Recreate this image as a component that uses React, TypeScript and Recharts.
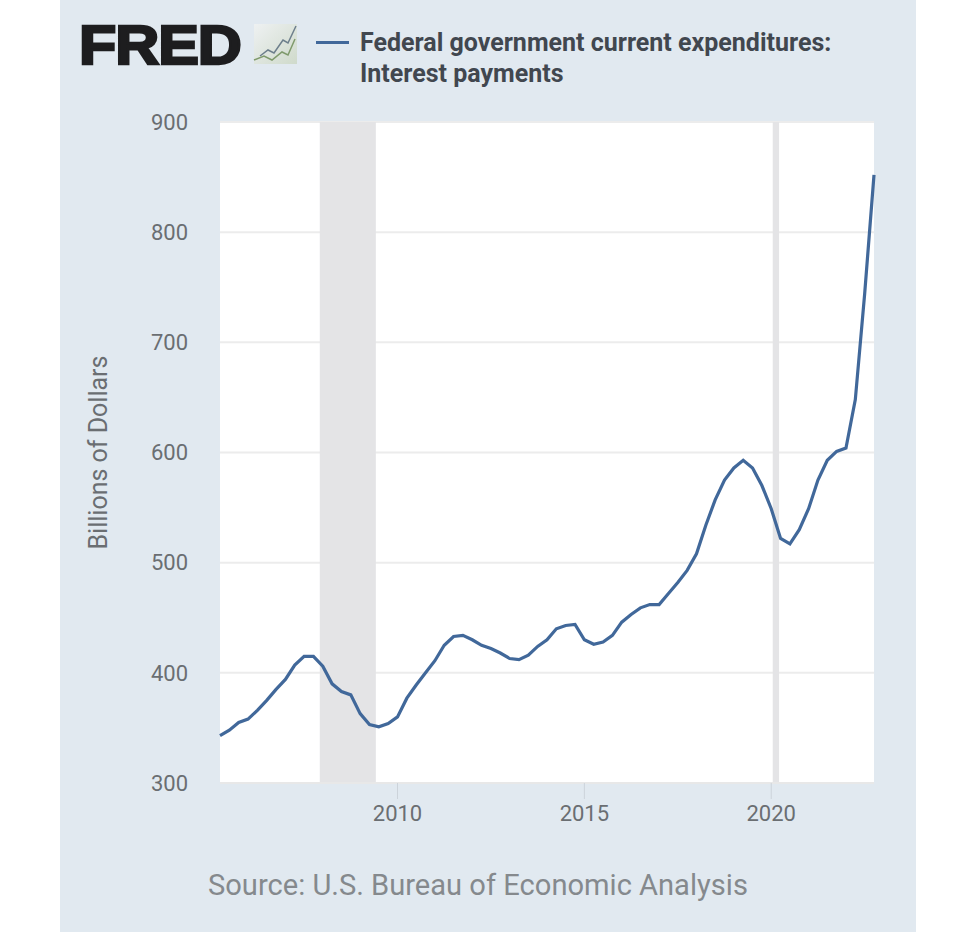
import {
  CartesianGrid,
  Line,
  LineChart,
  ReferenceArea,
  XAxis,
  YAxis,
} from "recharts";

// quarters as decimal years, 2005 Q2 to 2022 Q4
const quarters = [
  2005.25, 2005.5, 2005.75,
  2006, 2006.25, 2006.5, 2006.75,
  2007, 2007.25, 2007.5, 2007.75,
  2008, 2008.25, 2008.5, 2008.75,
  2009, 2009.25, 2009.5, 2009.75,
  2010, 2010.25, 2010.5, 2010.75,
  2011, 2011.25, 2011.5, 2011.75,
  2012, 2012.25, 2012.5, 2012.75,
  2013, 2013.25, 2013.5, 2013.75,
  2014, 2014.25, 2014.5, 2014.75,
  2015, 2015.25, 2015.5, 2015.75,
  2016, 2016.25, 2016.5, 2016.75,
  2017, 2017.25, 2017.5, 2017.75,
  2018, 2018.25, 2018.5, 2018.75,
  2019, 2019.25, 2019.5, 2019.75,
  2020, 2020.25, 2020.5, 2020.75,
  2021, 2021.25, 2021.5, 2021.75,
  2022, 2022.25, 2022.5, 2022.75,
];

const interestPayments = [
  343, 348, 355, 358, 366, 375, 385, 394, 407, 415, 415, 406,
  390, 383, 380, 363, 353, 351, 354, 360, 377, 389, 400, 411,
  425, 433, 434, 430, 425, 422, 418, 413, 412, 416, 424, 430,
  440, 443, 444, 430, 426, 428, 434, 446, 453, 459, 462, 462,
  472, 482, 493, 508, 534, 557, 575, 586, 593, 586, 570, 549,
  522, 517, 530, 549, 575, 593, 601, 604, 648, 744, 852,
];

const xTicks = [2010, 2015, 2020];
const yTicks = [300, 400, 500, 600, 700, 800, 900];
const recessions = [
  [2007.92, 2009.42],
  [2020.04, 2020.21],
];

// little logo thumbnail next to FRED
const logoBlue = "8,32 16,26 22,29 31,16 36,19 44,2";
const logoGreen = "2,36 12,32 20,36 30,28 36,31 43,15";

const data = quarters.map((q, i) => ({ q, value: interestPayments[i] }));

const App = () => {
  return (
    <div
      style={{
        position: "absolute",
        left: 0,
        top: 0,
        width: 975,
        height: 932,
        background: "#fff",
        overflow: "hidden",
      }}
    >
      <div
        style={{
          position: "absolute",
          left: 60,
          top: 0,
          width: 856,
          height: 932,
          background: "#e1e9f0",
        }}
      />

      <div style={{ position: "absolute", left: 0, top: 0 }}>
        <LineChart
          width={975}
          height={932}
          data={data}
          margin={{ top: 122, right: 101, left: 140, bottom: 109 }}
        >
          <CartesianGrid
            vertical={false}
            fill="#ffffff"
            stroke="#ececec"
            strokeWidth={2}
          />
          {recessions.map(([from, to]) => (
            <ReferenceArea
              key={from}
              x1={from}
              x2={to}
              fill="#e4e4e6"
              fillOpacity={1}
              stroke="none"
            />
          ))}
          <XAxis
            dataKey="q"
            type="number"
            domain={[2005.25, 2022.75]}
            ticks={xTicks}
            height={40}
            tickSize={16}
            tickMargin={6}
            tick={{ fontSize: 22, fill: "#6a6e72", fontFamily: "Roboto" }}
            tickLine={{ stroke: "#ccd3da", strokeWidth: 1 }}
            axisLine={{ stroke: "#e8e8e8", strokeWidth: 2 }}
          />
          <YAxis
            type="number"
            domain={[300, 900]}
            ticks={yTicks}
            width={80}
            tickLine={false}
            axisLine={false}
            tickMargin={26}
            tick={{ fontSize: 22, fill: "#6a6e72", fontFamily: "Roboto" }}
            label={{
              value: "Billions of Dollars",
              angle: -90,
              position: "center",
              dx: -82,
              dy: 0,
              fontSize: 25,
              fill: "#6a6e72",
              fontFamily: "Roboto",
            }}
          />
          <Line
            dataKey="value"
            name="Federal government current expenditures: Interest payments"
            type="linear"
            stroke="#41689a"
            strokeWidth={3.2}
            dot={false}
            isAnimationActive={false}
          />
        </LineChart>
      </div>

      {/* logo */}
      <div
        style={{
          position: "absolute",
          left: 79,
          top: 11,
          fontFamily: "Liberation Sans",
          fontWeight: 700,
          fontSize: 56,
          lineHeight: "68px",
          color: "#1d1d1f",
          WebkitTextStroke: "2.5px #1d1d1f",
          transform: "scaleX(1.09)",
          transformOrigin: "left center",
          letterSpacing: -1,
        }}
      >
        FRED
      </div>
      <svg
        style={{ position: "absolute", left: 252, top: 24 }}
        width={46}
        height={40}
      >
        <defs>
          <linearGradient id="logoBg" x1="0" y1="0" x2="1" y2="1">
            <stop offset="0%" stopColor="#eef1f2" />
            <stop offset="100%" stopColor="#cfdacb" />
          </linearGradient>
        </defs>
        <rect x={2} y={0} width={43} height={40} fill="url(#logoBg)" />
        <polyline points={logoBlue} fill="none" stroke="#6d7f8c" strokeWidth={1.5} />
        <polyline points={logoGreen} fill="none" stroke="#7f9a6c" strokeWidth={1.5} />
      </svg>

      {/* legend */}
      <svg
        style={{ position: "absolute", left: 316, top: 40 }}
        width={34}
        height={5}
      >
        <line x1={0} y1={2.5} x2={33} y2={2.5} stroke="#41689a" strokeWidth={3} />
      </svg>
      <div
        style={{
          position: "absolute",
          left: 360,
          top: 27,
          fontFamily: "Roboto",
          fontWeight: 700,
          fontSize: 25,
          lineHeight: "31px",
          color: "#41474f",
          whiteSpace: "nowrap",
        }}
      >
        Federal government current expenditures:
        <br />
        Interest payments
      </div>

      {/* source */}
      <div
        style={{
          position: "absolute",
          left: 208,
          top: 868,
          fontFamily: "Roboto",
          fontSize: 29.1,
          lineHeight: "34px",
          color: "#85898d",
          whiteSpace: "nowrap",
        }}
      >
        Source: U.S. Bureau of Economic Analysis
      </div>
    </div>
  );
};

export default App;
